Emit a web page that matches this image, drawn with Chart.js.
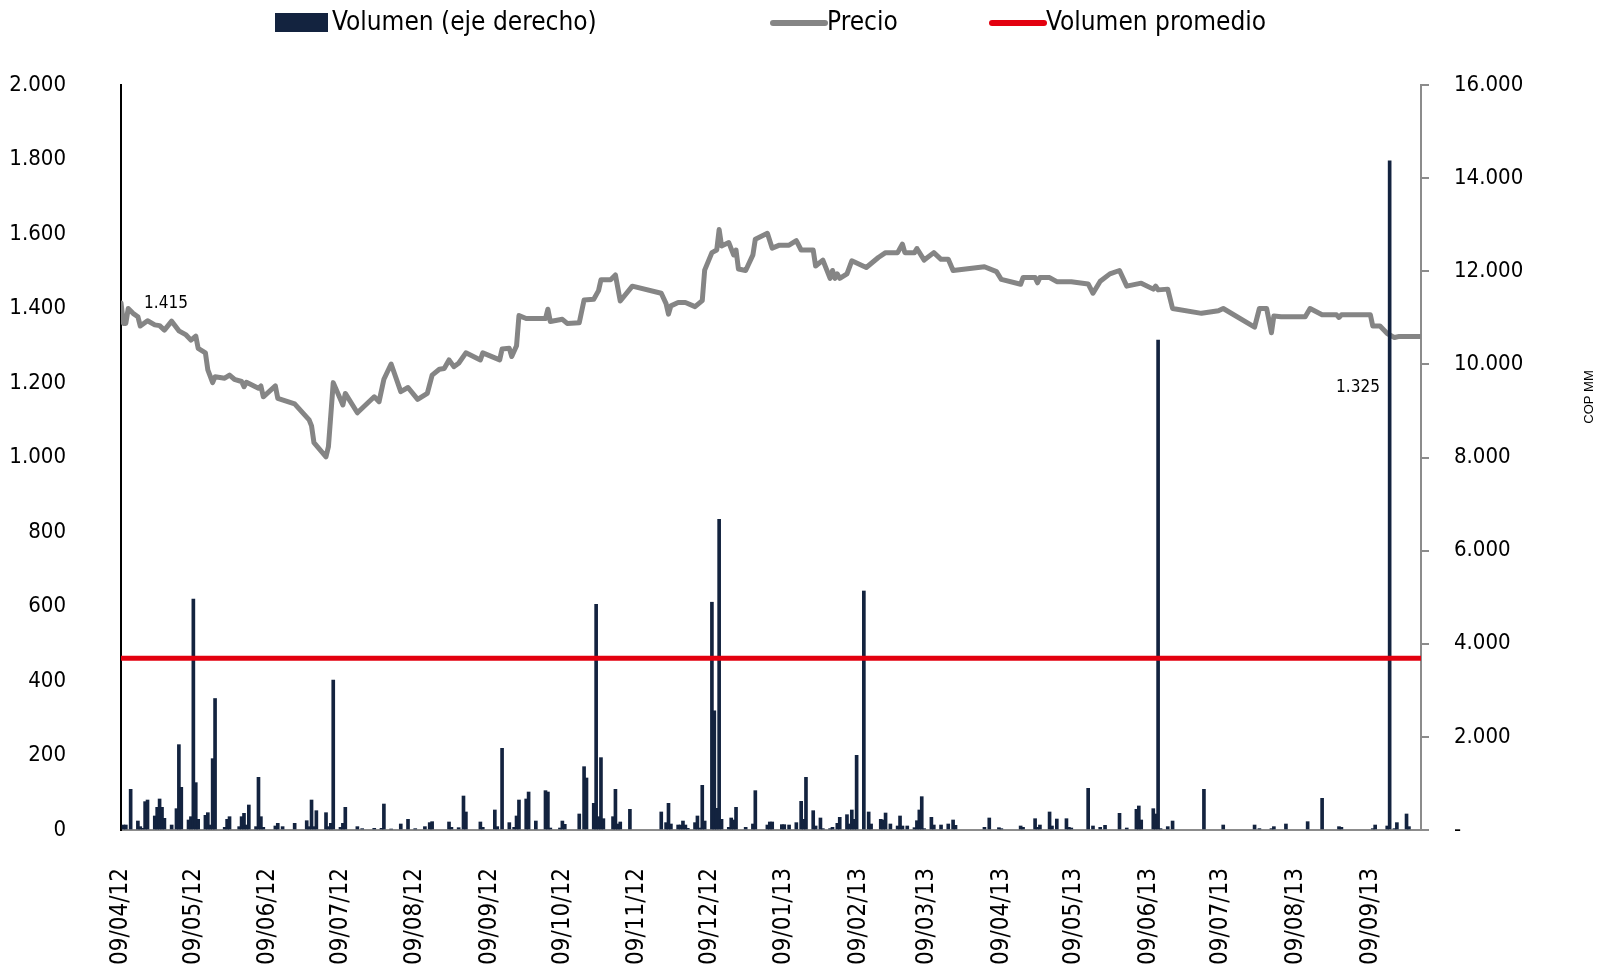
<!DOCTYPE html>
<html>
<head>
<meta charset="utf-8">
<script src="https://cdn.jsdelivr.net/npm/chart.js@4.4.1/dist/chart.umd.min.js"></script>
<style>
  html, body { margin: 0; padding: 0; background: #fff; }
</style>
</head>
<body>
<canvas id="precio-volumen" width="1606" height="978"></canvas>
<script>
const FONT = "'Liberation Sans Narrow', 'DejaVu Sans Condensed', 'Liberation Sans', sans-serif"

// eje x: dias desde el 09/04/12 hasta el 30/09/13
const startDate = Date.UTC(2012, 3, 9)
const endDay = 539

const tickLabels = ['09/04/12', '09/05/12', '09/06/12', '09/07/12', '09/08/12', '09/09/12',
  '09/10/12', '09/11/12', '09/12/12', '09/01/13', '09/02/13', '09/03/13', '09/04/13',
  '09/05/13', '09/06/13', '09/07/13', '09/08/13', '09/09/13']

// precio (eje izquierdo)
const priceDays = [0, 1, 2, 3, 5, 7, 8, 11, 14, 16, 18, 21, 24, 27, 29, 31, 32, 35, 36, 38,
  39, 43, 45, 47, 50, 51, 52, 57, 58, 59, 64, 65, 72, 78, 79, 80, 85, 86, 88, 92,
  93, 98, 105, 107, 109, 112, 116, 119, 123, 127, 129, 132, 134, 136, 138, 140, 143, 149, 150, 157,
  158, 161, 162, 164, 165, 168, 176, 177, 178, 183, 185, 190, 192, 196, 198, 199, 203, 205, 207, 212,
  224, 226, 227, 228, 231, 234, 238, 241, 242, 245, 247, 248, 249, 252, 254, 255, 256, 259, 262, 263,
  268, 270, 273, 277, 280, 282, 287, 288, 291, 294, 295, 296, 297, 298, 301, 303, 309, 314, 317, 322,
  324, 325, 329, 330, 333, 337, 340, 343, 345, 358, 363, 365, 373, 374, 379, 380, 381, 385, 388, 394,
  401, 403, 406, 410, 414, 417, 423, 428, 429, 430, 434, 436, 448, 455, 457, 470, 472, 475, 477, 478,
  481, 491, 493, 498, 504, 505, 506, 518, 519, 522, 525, 528, 530, 539]
const priceValues = [1415, 1360, 1360, 1400, 1387, 1378, 1353, 1367, 1356, 1354, 1342, 1366, 1340, 1329, 1315, 1326, 1293, 1281, 1235, 1201,
  1217, 1213, 1221, 1210, 1204, 1190, 1202, 1186, 1192, 1163, 1192, 1159, 1144, 1101, 1085, 1040, 1002, 1029, 1201, 1141,
  1172, 1120, 1163, 1150, 1210, 1251, 1177, 1188, 1156, 1172, 1221, 1237, 1239, 1262, 1244, 1253, 1281, 1262, 1281, 1262,
  1291, 1293, 1271, 1300, 1381, 1373, 1373, 1398, 1365, 1371, 1360, 1362, 1423, 1425, 1448, 1477, 1477, 1490, 1420, 1460,
  1441, 1413, 1385, 1407, 1416, 1416, 1405, 1421, 1503, 1550, 1557, 1612, 1568, 1577, 1544, 1557, 1506, 1502, 1544, 1586,
  1602, 1562, 1570, 1570, 1582, 1557, 1557, 1514, 1530, 1481, 1502, 1481, 1493, 1481, 1493, 1528, 1510, 1537, 1550, 1550,
  1573, 1550, 1550, 1561, 1530, 1550, 1532, 1532, 1502, 1512, 1499, 1478, 1465, 1483, 1483, 1469, 1483, 1483, 1472, 1472,
  1466, 1441, 1473, 1493, 1502, 1460, 1468, 1452, 1460, 1450, 1452, 1400, 1387, 1394, 1400, 1350, 1400, 1400, 1335, 1380,
  1378, 1378, 1400, 1383, 1383, 1376, 1383, 1383, 1353, 1353, 1333, 1322, 1325, 1325]

// volumen en COP MM (eje derecho)
const volumeDays = [1, 2, 4, 7, 8, 9, 10, 11, 14, 15, 16, 17, 18, 21, 23, 24, 25, 28, 29, 30,
  31, 32, 35, 36, 37, 38, 39, 43, 44, 45, 49, 50, 51, 52, 53, 56, 57, 58, 59, 64,
  65, 67, 72, 77, 78, 79, 80, 81, 85, 86, 87, 88, 91, 92, 93, 98, 100, 105, 108, 109,
  112, 116, 119, 122, 126, 128, 129, 136, 137, 140, 142, 143, 149, 150, 155, 156, 158, 161, 163, 164,
  165, 168, 169, 172, 176, 177, 178, 182, 183, 184, 190, 192, 193, 196, 197, 198, 199, 200, 204, 205,
  206, 207, 211, 224, 226, 227, 228, 231, 232, 233, 234, 235, 238, 239, 240, 241, 242, 245, 246, 247,
  248, 249, 252, 253, 254, 255, 259, 262, 263, 268, 269, 270, 274, 275, 277, 280, 282, 283, 284, 287,
  288, 290, 291, 294, 295, 297, 298, 301, 302, 303, 304, 305, 308, 310, 311, 315, 316, 317, 319, 322,
  323, 324, 326, 329, 330, 331, 332, 333, 336, 337, 340, 343, 345, 346, 358, 360, 364, 365, 373, 374,
  379, 380, 381, 385, 386, 388, 392, 393, 394, 401, 403, 406, 408, 414, 417, 421, 422, 423, 428, 429,
  430, 431, 434, 436, 449, 457, 470, 472, 477, 478, 483, 492, 498, 505, 506, 519, 520, 525, 526, 528,
  529, 533, 534]
const volumeValues = [107, 107, 874, 193, 72, 36, 609, 644, 301, 487, 666, 487, 251, 107, 458, 1833, 916, 215, 286, 4961,
  1017, 229, 315, 372, 107, 1532, 2824, 57, 229, 286, 72, 286, 358, 107, 537, 72, 1131, 286, 57, 86,
  143, 72, 143, 200, 72, 644, 72, 415, 372, 72, 143, 3221, 57, 143, 487, 72, 29, 36, 36, 558,
  21, 129, 229, 29, 72, 158, 179, 172, 57, 50, 730, 387, 172, 57, 430, 72, 1754, 158, 57, 301,
  644, 666, 816, 193, 845, 816, 43, 43, 193, 122, 344, 1360, 1117, 573, 4847, 286, 1554, 243, 286, 874,
  129, 172, 444, 387, 158, 573, 129, 107, 107, 193, 107, 36, 158, 301, 43, 959, 193, 4892, 2560, 465,
  6673, 229, 57, 258, 215, 487, 57, 129, 845, 107, 172, 172, 115, 115, 107, 158, 616, 229, 1131, 415,
  86, 258, 29, 29, 57, 143, 272, 329, 129, 430, 229, 1604, 5133, 387, 129, 229, 215, 365, 129, 86,
  301, 86, 86, 50, 200, 430, 716, 29, 272, 107, 107, 129, 215, 100, 57, 258, 50, 29, 86, 57,
  243, 57, 107, 387, 86, 236, 243, 57, 43, 895, 86, 57, 100, 358, 43, 444, 516, 215, 458, 344,
  10523, 29, 72, 193, 874, 107, 107, 29, 29, 72, 129, 179, 680, 72, 57, 29, 107, 86, 14372, 29,
  158, 344, 72]

const avgVolume = 3690

function dayOf(label) {
  const [dd, mm, yy] = label.split('/').map(Number)
  return (Date.UTC(2000 + yy, mm - 1, dd) - startDate) / 86400000
}
const tickDays = tickLabels.map(dayOf)

function fmt(v) {
  return Math.round(v).toString().replace(/\B(?=(\d{3})+(?!\d))/g, '.')
}

const legendPlugin = {
  id: 'leyenda',
  afterDraw(chart, args, opts) {
    const ctx = chart.ctx
    ctx.save()
    ctx.font = `26px ${FONT}`
    ctx.textBaseline = 'middle'
    chart.data.datasets.forEach((ds, i) => {
      const x = opts.positions[i]
      const y = opts.y
      if (ds.type === 'bar') {
        ctx.fillStyle = ds.backgroundColor
        ctx.fillRect(x, y - 10, 53, 19)
      } else {
        ctx.strokeStyle = ds.borderColor
        ctx.lineWidth = 6
        ctx.lineCap = 'round'
        ctx.beginPath()
        ctx.moveTo(x + 3, y)
        ctx.lineTo(x + 55, y)
        ctx.stroke()
      }
      ctx.fillStyle = '#000'
      ctx.fillText(ds.label, x + 57, y)
    })
    ctx.restore()
  }
}

const notesPlugin = {
  id: 'notas',
  afterDraw(chart) {
    const ctx = chart.ctx
    const meta = chart.getDatasetMeta(1)
    const first = meta.data[0]
    const last = meta.data[meta.data.length - 1]
    ctx.save()
    ctx.fillStyle = '#000'
    ctx.font = `17px ${FONT}`
    ctx.textAlign = 'center'
    ctx.textBaseline = 'middle'
    ctx.fillText(fmt(priceValues[0]), first.x + 45, first.y + 1)
    ctx.fillText(fmt(priceValues[priceValues.length - 1]), last.x - 63, last.y + 51)

    // titulo del eje derecho
    ctx.font = "13px 'Liberation Sans', Arial, sans-serif"
    ctx.translate(1589, 397)
    ctx.rotate(-Math.PI / 2)
    ctx.fillText('COP MM', 0, 0)
    ctx.restore()
  }
}

const ctx = document.getElementById('precio-volumen')
const chart = new Chart(ctx, {
  type: 'bar',
  data: {
    datasets: [{
      type: 'bar',
      label: 'Volumen (eje derecho)',
      data: volumeDays.map((d, i) => ({ x: d, y: volumeValues[i] })),
      backgroundColor: '#13233f',
      barThickness: 3,
      yAxisID: 'y2',
      order: 2
    }, {
      type: 'line',
      label: 'Precio',
      data: priceDays.map((d, i) => ({ x: d, y: priceValues[i] })),
      borderColor: '#858585',
      borderWidth: 5,
      pointRadius: 0,
      tension: 0,
      borderJoinStyle: 'round',
      borderCapStyle: 'round',
      yAxisID: 'y',
      order: 3
    }, {
      type: 'line',
      label: 'Volumen promedio',
      data: [{ x: 0, y: avgVolume }, { x: endDay, y: avgVolume }],
      borderColor: '#e3000f',
      borderWidth: 5,
      pointRadius: 0,
      yAxisID: 'y2',
      order: 1
    }]
  },
  options: {
    responsive: false,
    animation: false,
    devicePixelRatio: 1,
    layout: { padding: { top: 85, left: 0, right: 0, bottom: 0 } },
    plugins: {
      legend: { display: false },
      tooltip: { enabled: false },
      leyenda: { positions: [275, 770, 989], y: 23 }
    },
    scales: {
      x: {
        type: 'linear',
        min: 0,
        max: endDay,
        offset: false,
        grid: { display: false, drawTicks: false, offset: false },
        border: { color: '#8c8c8c', width: 2 },
        afterBuildTicks: (scale) => { scale.ticks = tickDays.map(v => ({ value: v })) },
        afterFit: (scale) => { scale.height = 148 },
        ticks: {
          autoSkip: false,
          minRotation: 90,
          maxRotation: 90,
          padding: 38,
          color: '#000',
          font: { family: FONT, size: 24 },
          callback: (v, i) => tickLabels[i]
        }
      },
      y: {
        position: 'left',
        min: 0,
        max: 2000,
        grid: { display: false, drawTicks: false },
        border: { color: '#000', width: 2 },
        afterFit: (scale) => { scale.width = 121 },
        ticks: {
          stepSize: 200,
          padding: 55,
          color: '#000',
          font: { family: FONT, size: 22 },
          callback: (v) => fmt(v)
        }
      },
      y2: {
        position: 'right',
        min: 0,
        max: 16000,
        grid: { display: true, drawOnChartArea: false, drawTicks: true, tickLength: 8, color: '#8c8c8c', lineWidth: 2 },
        border: { color: '#8c8c8c', width: 2 },
        afterFit: (scale) => { scale.width = 185 },
        ticks: {
          stepSize: 2000,
          padding: 25,
          color: '#000',
          font: { family: FONT, size: 22 },
          callback: (v) => v === 0 ? '-' : fmt(v)
        }
      }
    }
  },
  plugins: [legendPlugin, notesPlugin]
})
</script>
</body>
</html>
